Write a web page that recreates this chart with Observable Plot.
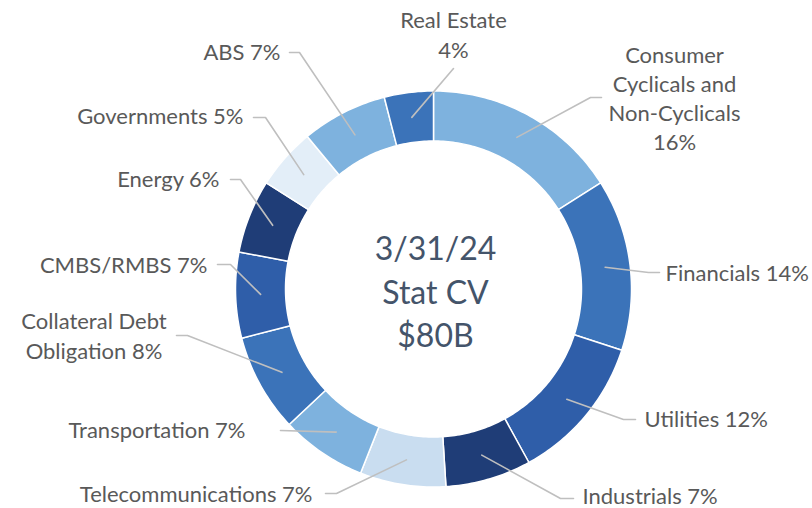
<!DOCTYPE html>
<html><head><meta charset="utf-8">
<script src="https://cdn.jsdelivr.net/npm/d3@7"></script>
<script src="https://cdn.jsdelivr.net/npm/@observablehq/plot@0.6"></script>
<style>body{margin:0;background:#fff}</style>
</head><body><div id="chart"></div>
<script>
// ---- data ----
const categories = ["Consumer Cyclicals and Non-Cyclicals","Financials","Utilities","Industrials","Telecommunications","Transportation","Collateral Debt Obligation","CMBS/RMBS","Energy","Governments","ABS","Real Estate"];
const shares = [16,14,12,7,7,7,8,7,6,5,7,4];
const labelTexts = ["Consumer\nCyclicals and\nNon-Cyclicals\n16%","Financials 14%","Utilities 12%","Industrials 7%","Telecommunications 7%","Transportation 7%","Collateral Debt\nObligation 8%","CMBS/RMBS 7%","Energy 6%","Governments 5%","ABS 7%","Real Estate\n4%"];
const centerLines = ["3/31/24","Stat CV","$80B"];
const sliceColors = ["#7eb2de","#3b73b9","#2f5ea9","#1f3d77","#c9ddf0","#7eb2de","#3b73b9","#2f5ea9","#1f3d77","#e3eef8","#7eb2de","#3b73b9"];

// ---- layout (pixel offsets from the donut centre) ----
const cx = 433, cy = 288.5, W = 812, H = 508;
const rOuter = 198, rInner = 148, rLeader = 173;
const leaderPts = [
  [[157,-191.5],[168,-191.5]],
  [[215,-16.5],[226,-16.5]],
  [[190,130.5],[202,130.5]],
  [[127,209.5],[140,209.5]],
  [[-97,204.5],[-108,204.5]],
  [[-153,141.5]],
  [[-246,46.5],[-257,46.5]],
  [[-203,-24.5],[-216,-24.5]],
  [[-193,-109.5],[-203,-109.5]],
  [[-168,-171.5],[-180,-171.5]],
  [[-134,-236.5],[-144,-236.5]],
  [[20,-220.5]]
];
const labelPos = [[241,-192],[232,-16.8],[211,129.2],[149,205.8],[-121,203.3],[-188,140.2],[-339.5,45.7],[-226,-24.8],[-214,-110.8],[-190,-173.8],[-153,-237.8],[20,-255.3]];
const labelAnchor = ["middle","start","start","start","end","end","middle","end","end","end","end","middle"];

// ---- geometry from data ----
const arcs = d3.pie().sort(null).startAngle(0).endAngle(2*Math.PI)(shares);
const polar = (r,a) => ({x: r*Math.sin(a), y: -r*Math.cos(a)});
const slicePts = [];
arcs.forEach((a,i) => {
  const n = Math.max(8, Math.ceil((a.endAngle-a.startAngle)*60));
  for (let k=0;k<=n;k++){ const t=a.startAngle+(a.endAngle-a.startAngle)*k/n; slicePts.push({...polar(rOuter,t), name:categories[i], color:sliceColors[i]}); }
  for (let k=n;k>=0;k--){ const t=a.startAngle+(a.endAngle-a.startAngle)*k/n; slicePts.push({...polar(rInner,t), name:categories[i], color:sliceColors[i]}); }
});
const leaderData = [];
arcs.forEach((a,i) => {
  const mid = (a.startAngle+a.endAngle)/2;
  leaderData.push({...polar(rLeader,mid), name:categories[i]});
  leaderPts[i].forEach(p => leaderData.push({x:p[0], y:p[1], name:categories[i]}));
});
const labelData = categories.map((c,i) => ({name:c, text:labelTexts[i], x:labelPos[i][0], y:labelPos[i][1], anchor:labelAnchor[i]}));

const font = "Lato, Carlito, 'Open Sans', sans-serif";
const chart = Plot.plot({
  width: W, height: H, margin: 0,
  x: {domain:[-cx, W-cx], range:[0,W], axis:null},
  y: {domain:[-cy, H-cy], range:[0,H], axis:null},
  color: {type:"identity"},
  style: {background:"#fff"},
  marks: [
    Plot.line(slicePts, {x:"x", y:"y", z:"name", fill:"color", stroke:"white", strokeWidth:1.5, curve:"linear-closed"}),
    Plot.line(leaderData, {x:"x", y:"y", z:"name", stroke:"#bfbfbf", strokeWidth:1.6}),
    ...["start","middle","end"].map(anc => Plot.text(labelData.filter(d=>d.anchor===anc), {x:"x", y:"y", text:"text", textAnchor:anc, lineAnchor:"middle", lineHeight:1.32, fontSize:22, fill:"#595959", fontFamily:font})),
    Plot.text([centerLines.join("\n")], {x:()=>2, y:()=>1, text:d=>d, textAnchor:"middle", lineAnchor:"middle", lineHeight:1.36, fontSize:32, fill:"#44546a", fontFamily:font})
  ]
});
document.getElementById("chart").appendChild(chart);
</script>
</body></html>
